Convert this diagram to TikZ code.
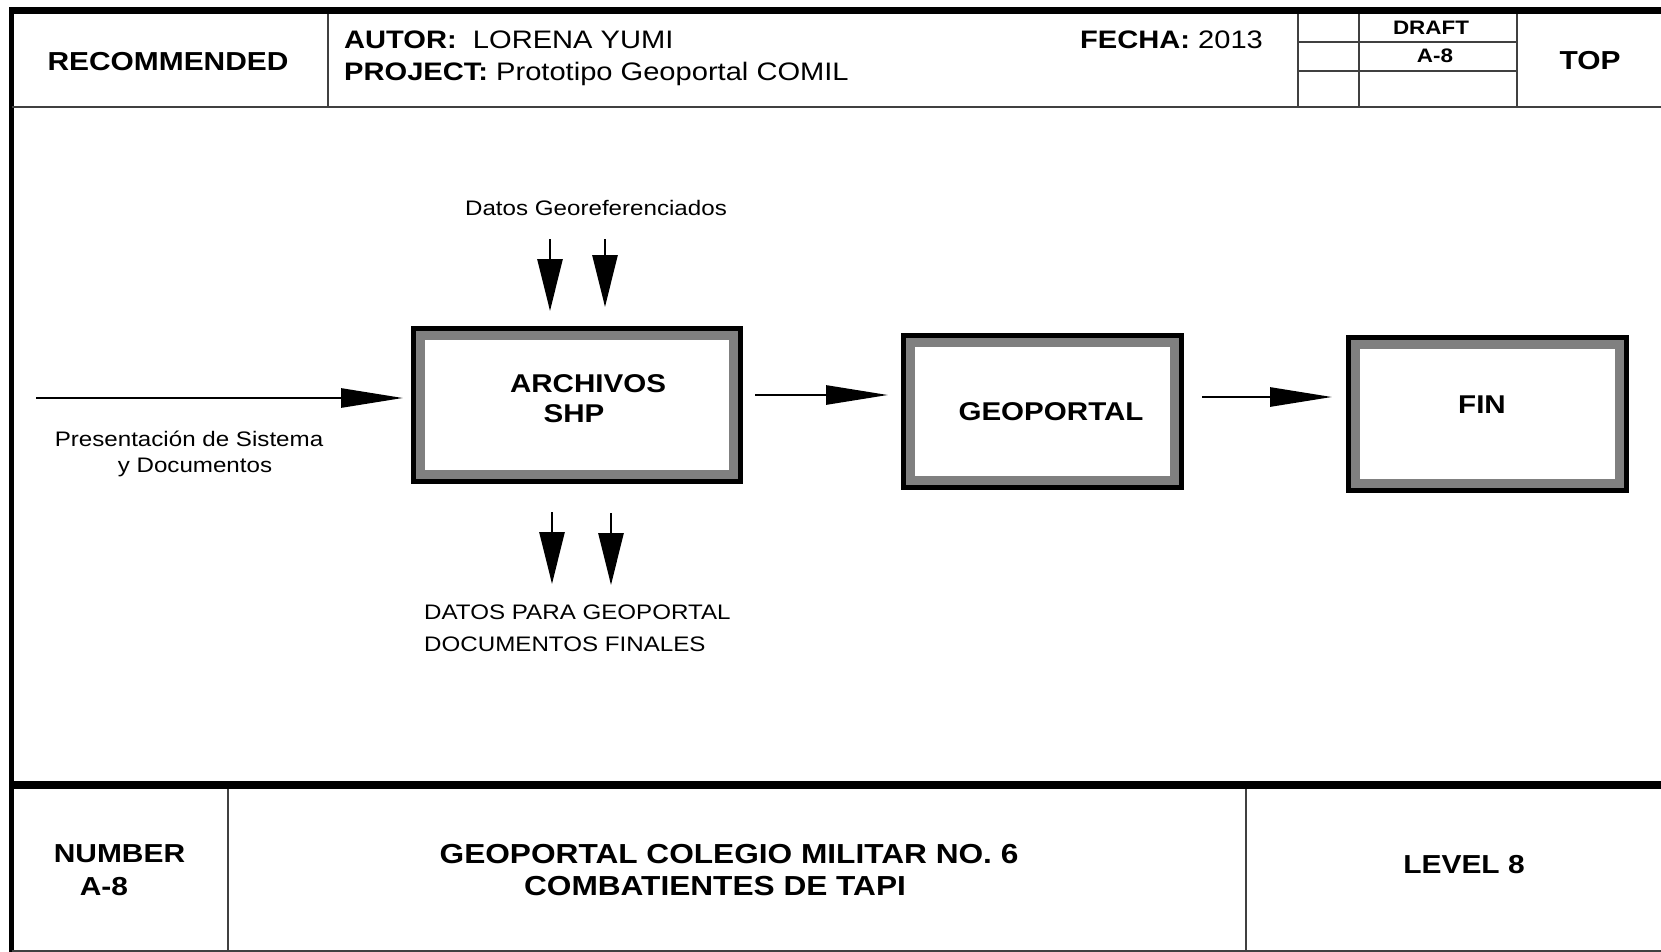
\documentclass[tikz,border=0pt]{standalone}
\usepackage{fontspec}
\setmainfont{Liberation Sans}
\usepackage{graphicx}
\usetikzlibrary{arrows.meta,positioning}
\newcommand{\sx}[1]{\scalebox{1.15}[1]{#1}}
\tikzset{
  thinrule/.style={line width=2pt,black!75},
  heavyrule/.style={line width=7pt},
  proc/.style={draw=black,line width=5pt,fill=white,inner sep=0pt,
    path picture={\draw[black!50,line width=23pt]
      (path picture bounding box.south west) rectangle (path picture bounding box.north east);}},
  proctxt/.style={font=\fontsize{25.7}{30.5}\selectfont\bfseries,inner sep=0pt,anchor=base},
  flow/.style={-{Triangle[length=62pt,width=19pt]},line width=2.8pt},
  dflow/.style={-{Triangle[length=52pt,width=25pt]},line width=2.8pt},
  hdr/.style={font=\fontsize{26}{30}\selectfont\bfseries,inner sep=0pt},
  info/.style={font=\fontsize{25.3}{30}\selectfont,inner sep=0pt},
  cell/.style={font=\fontsize{19.5}{23}\selectfont\bfseries,inner sep=0pt},
  ttl/.style={font=\fontsize{27.5}{32}\selectfont\bfseries,inner sep=0pt},
  lbl/.style={font=\fontsize{21}{25}\selectfont,inner sep=0pt},
}
\begin{document}
\begin{tikzpicture}[x=1pt,y=-1pt]
  \useasboundingbox (0,0) rectangle (1661,952);
  % frame and title block
  \draw[heavyrule] (9,10.7) -- (1661,10.7);
  \draw[line width=4.5pt] (11.7,7.35) -- (11.7,952);
  \draw[thinrule] (11.7,107) -- (1661,107);
  \draw[line width=8.7pt] (11.7,785) -- (1661,785);
  \draw[thinrule] (11.7,951) -- (1661,951);
  \foreach \x in {328,1298,1359,1517} \draw[thinrule] (\x,14) -- (\x,107);
  \foreach \y in {42,71} \draw[thinrule] (1298,\y) -- (1517,\y);
  \foreach \x in {227.7,1246} \draw[thinrule] (\x,789) -- (\x,952);

  \node[hdr,anchor=base] (recom) at (168,71) {\sx{RECOMMENDED}};
  \node[info,anchor=base west] (autor) at (344,49) {\sx{\textbf{AUTOR:}\ \ LORENA YUMI}};
  \node[info,anchor=base west] (proj) at (344,81) {\sx{\textbf{PROJECT:} Prototipo Geoportal COMIL}};
  \node[info,anchor=base west] (fecha) at (1080,49) {\sx{\textbf{FECHA:} 2013}};
  \node[cell,anchor=base] (draft) at (1431,35) {\sx{DRAFT}};
  \node[cell,anchor=base] (draftno) at (1435,63) {\sx{A-8}};
  \node[hdr,anchor=base] (top) at (1590,69.5) {\sx{TOP}};

  % process boxes
  \node[proc,minimum width=327pt,minimum height=153pt] (archivos) at (577,405) {};
  \node[proc,minimum width=278pt,minimum height=152pt] (geoportal) at (1042.5,411.5) {};
  \node[proc,minimum width=278pt,minimum height=153pt] (fin) at (1487.5,414) {};
  \node[proctxt] (archivosA) at ([xshift=11pt,yshift=13pt]archivos.center) {\sx{ARCHIVOS}};
  \node[proctxt] (archivosB) at ([xshift=-3pt,yshift=-17.5pt]archivos.center) {\sx{SHP}};
  \node[proctxt] (geoportalA) at ([xshift=8.5pt,yshift=-8.5pt]geoportal.center) {\sx{GEOPORTAL}};
  \node[proctxt] (finA) at ([xshift=-5.5pt,yshift=1pt]fin.center) {\sx{FIN}};

  % labels
  \node[lbl,anchor=base] (georef) at (596,215) {\sx{Datos Georeferenciados}};
  \node[lbl,anchor=base] (pres1) at (189,446) {\sx{Presentación de Sistema}};
  \node[lbl,anchor=base] (pres2) at (195,472) {\sx{y Documentos}};
  \node[lbl,anchor=base west] (out1) at (424,619) {\sx{DATOS PARA GEOPORTAL}};
  \node[lbl,anchor=base west] (out2) at (424,651) {\sx{DOCUMENTOS FINALES}};

  % arrows
  \coordinate (src) at (36,398);
  \draw[flow,shorten >=8pt] (src) -- (src -| archivos.west);
  \draw[flow,shorten <=12pt,shorten >=13pt] ([yshift=10pt]archivos.east) -- ([yshift=16.5pt]geoportal.west);
  \draw[flow,shorten <=18pt,shorten >=14pt] ([yshift=14.5pt]geoportal.east) -- ([yshift=17pt]fin.west);
  \coordinate (g1) at (550,239); \coordinate (g2) at (605,239);
  \draw[dflow,shorten >=15pt] (g1) -- (g1 |- archivos.north);
  \draw[dflow,shorten >=19pt] (g2) -- (g2 |- archivos.north);
  \coordinate (d1) at (552,584); \coordinate (d2) at (611,585);
  \draw[dflow,shorten <=28pt] (d1 |- archivos.south) -- (d1);
  \draw[dflow,shorten <=29pt] (d2 |- archivos.south) -- (d2);

  % footer
  \node[hdr,anchor=base] (num) at (119.5,862) {\sx{NUMBER}};
  \node[hdr,anchor=base] (numno) at (104,895) {\sx{A-8}};
  \node[ttl,anchor=base] (ttl1) at (729,863) {\sx{GEOPORTAL COLEGIO MILITAR NO. 6}};
  \node[ttl,anchor=base] (ttl2) at (715,895) {\sx{COMBATIENTES DE TAPI}};
  \node[hdr,anchor=base] (level) at (1464,873) {\sx{LEVEL 8}};
\end{tikzpicture}
\end{document}
